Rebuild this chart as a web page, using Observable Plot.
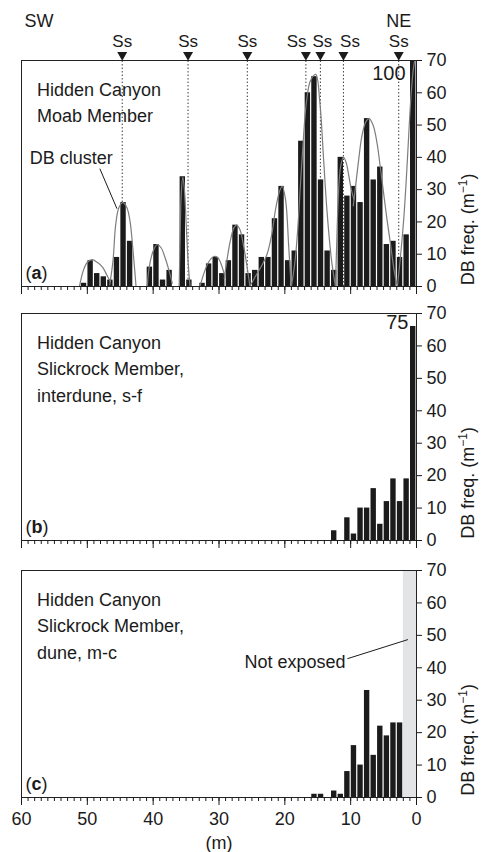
<!DOCTYPE html>
<html>
<head>
<meta charset="utf-8">
<script src="https://cdn.jsdelivr.net/npm/d3@7"></script>
<script src="https://cdn.jsdelivr.net/npm/@observablehq/plot@0.6"></script>
<style>
html, body { margin: 0; padding: 0; background: #fff; }
#chart svg { display: block; }
</style>
</head>
<body>
<div id="chart"></div>
<script>
// ---- Data (bin start in metres, value = deformation-band frequency per metre) ----
const meters = [0,1,2,3,4,5,6,7,8,9,10,11,12,13,14,15,16,17,18,19,20,21,22,23,24,25,26,27,28,29,
                30,31,32,33,34,35,36,37,38,39,40,41,42,43,44,45,46,47,48,49,50,51,52,53,54,55,56,57,58,59];
const moabValues = [100,16,9,14,13,37,33,52,26,31, 28,40,5,11,33,65,60,45,11,8,
                    31,21,9,9,5,4,16,19,8,4, 9,7,1,0,2,34,0,5,2,13,
                    6,0,0,14,26,9,2,3,4,8, 1,0,0,0,0,0,0,0,0,0];
const interduneValues = [75,19,12,19,12,5,16,10,10,2, 7,0,3,0,0,0,0,0,0,0,
                         0,0,0,0,0,0,0,0,0,0, 0,0,0,0,0,0,0,0,0,0,
                         0,0,0,0,0,0,0,0,0,0, 0,0,0,0,0,0,0,0,0,0];
const duneValues = [null,null,23,23,19,22,13,33,10,16, 8,1,2,0,1,1,0,0,0,0,
                    0,0,0,0,0,0,0,0,0,0, 0,0,0,0,0,0,0,0,0,0,
                    0,0,0,0,0,0,0,0,0,0, 0,0,0,0,0,0,0,0,0,0];
const ssPositions = [44.7, 34.7, 25.7, 16.8, 14.6, 11.1, 2.7];
const ssLabelPositions = [44.7, 34.7, 25.7, 18.2, 14.3, 10.1, 2.7];
const notExposed = [0, 2];
const yTicks = [0, 10, 20, 30, 40, 50, 60, 70];
const xMajorTicks = [60, 50, 40, 30, 20, 10, 0];
const xMinorTicks = [0,1,2,3,4,5,6,7,8,9,10,11,12,13,14,15,16,17,18,19,20,21,22,23,24,25,26,27,28,29,30,
                     31,32,33,34,35,36,37,38,39,40,41,42,43,44,45,46,47,48,49,50,51,52,53,54,55,56,57,58,59,60];
// DB cluster envelopes (points read along each grey arc: [m, DB freq])
const clusterArcs = [
  [[51.2,0],[50.6,5],[50.0,7.5],[49.3,8.3],[48.5,7.5],[47.7,6],[46.9,3],[46.5,1.5]],
  [[46.6,0.5],[46.1,8],[45.7,19],[45.2,24.5],[44.6,26],[44.0,24.5],[43.5,20],[43.1,12],[42.8,5],[42.6,0]],
  [[40.9,0],[40.6,6],[40.0,11],[39.4,13],[38.8,12],[38.2,9],[37.6,5],[37.1,1]],
  [[36.05,0],[35.9,15],[35.75,28],[35.5,34],[35.25,30],[35.0,20],[34.7,8],[34.4,0]],
  [[32.9,0],[32.3,4],[31.6,7.5],[30.8,9.3],[30.2,9],[29.6,6.5],[29.1,3]],
  [[29.2,2.5],[28.8,8],[28.3,14],[27.7,18.3],[27.3,19],[26.8,17.5],[26.3,13],[25.8,7],[25.3,0]],
  [[25.3,0],[24.5,3],[23.5,6.5],[22.7,10],[22.0,16],[21.4,24],[20.8,29.5],[20.4,31],[19.9,27],[19.4,12],[19.05,0]],
  [[19.0,0],[18.5,7],[18.1,16],[17.4,39],[16.7,57.5],[16.1,63.8],[15.3,65.7],[14.7,57.5],[14.1,39],[13.6,23.5],[12.9,8],[12.3,0]],
  [[12.3,0],[12.05,18],[11.8,31],[11.5,37.5],[11.1,40],[10.7,38.5],[10.3,34.5],[9.9,30],[9.5,27]],
  [[9.6,25],[9.2,32],[8.8,39],[8.3,46.5],[7.7,51],[7.2,52],[6.6,50],[6.0,44.5],[5.5,37],[5.0,29],[4.5,21],[3.9,12.5],[3.4,5],[2.9,0]],
  [[2.9,0],[2.4,10],[1.9,22],[1.5,35],[1.1,50],[0.8,60],[0.5,67],[0.2,71]]
];

const FONT = "'Liberation Sans', Arial, Helvetica, sans-serif";
const INK = "#1b1b1b";

function panel({values, height, marginTop, marginBottom, cap, before = [], after = [], xLabels = false, tag, texts}) {
  const bars = meters.map((m, i) => ({m, v: values[i]})).filter(d => d.v != null && d.v > 0);
  const marks = [
    ...before,
    Plot.rect(bars, {x1: "m", x2: d => d.m + 1, y1: 0, y2: d => Math.min(d.v, cap), fill: INK, insetLeft: 0.6, insetRight: 0.6}),
    ...after,
    Plot.frame({stroke: "#222", strokeWidth: 1}),
    Plot.axisY({anchor: "right", ticks: yTicks, tickSize: 5, tickPadding: 5, label: null, fontSize: 18}),
    Plot.text(["DB freq. (m-1)"], {frameAnchor: "right", dx: 52, rotate: -90, fontSize: 18}),
    Plot.axisX({ticks: xMinorTicks, tickSize: 4, tickFormat: () => "", label: null}),
    Plot.axisX({ticks: xMajorTicks, tickSize: 8, tickPadding: 7, tickFormat: xLabels ? (d => String(d)) : (() => ""), label: null, fontSize: 18}),
    Plot.text([texts], {frameAnchor: "top-left", textAnchor: "start", lineAnchor: "top", dx: 15.5, dy: 17, lineHeight: 1.46, fontSize: 18}),
    Plot.text([tag], {frameAnchor: "bottom-left", textAnchor: "start", lineAnchor: "bottom", dx: 4, dy: -8, fontSize: 18})
  ];
  return Plot.plot({
    width: 481, height, marginLeft: 21, marginRight: 65, marginTop, marginBottom,
    x: {domain: [60, 0]},
    y: {domain: [0, 70]},
    style: {fontFamily: FONT, fontSize: "18px", color: INK, background: "#fff", overflow: "visible"},
    marks
  });
}

const arcTable = clusterArcs.flatMap((pts, i) => pts.map(([m, v]) => ({m, v, arc: i})));

const panelA = panel({
  values: moabValues, height: 300, marginTop: 60, marginBottom: 14, cap: 70,
  tag: "(a)", texts: "Hidden Canyon\nMoab Member",
  before: [
    Plot.ruleX(ssPositions, {x: d => d, y1: 0, y2: 70, stroke: "#333", strokeWidth: 1, strokeDasharray: "1.4,2.1"})
  ],
  after: [
    Plot.line(arcTable, {x: "m", y: "v", z: "arc", curve: "catmull-rom", stroke: "#7d7d7d", strokeWidth: 1.2, clip: true}),
    Plot.dot(ssPositions, {x: d => d, y: 70, symbol: "triangle", r: 3.7, rotate: 180, fill: INK, stroke: null, dy: -5.5}),
    Plot.text(ssLabelPositions, {x: d => d, y: 70, text: () => "Ss", dy: -19, fontSize: 17}),
    Plot.text(["SW"], {frameAnchor: "top-left", textAnchor: "start", lineAnchor: "middle", dx: 3, dy: -39, fontSize: 18}),
    Plot.text(["NE"], {x: 2.7, y: 70, lineAnchor: "middle", dy: -39, fontSize: 18}),
    Plot.text(["100"], {x: 1, y: 70, textAnchor: "end", lineAnchor: "top", dx: -4.4, dy: 5, fontSize: 20}),
    Plot.text(["DB cluster"], {x: 58.74, y: 39.6, textAnchor: "start", lineAnchor: "middle", fontSize: 18}),
    Plot.link([0], {x1: 48.1, y1: 36.5, x2: 45.5, y2: 24.1, stroke: INK, strokeWidth: 1})
  ]
});

const panelB = panel({
  values: interduneValues, height: 254, marginTop: 13, marginBottom: 14, cap: 66,
  tag: "(b)", texts: "Hidden Canyon\nSlickrock Member,\ninterdune, s-f",
  after: [
    Plot.text(["75"], {x: 1, y: 70, textAnchor: "end", lineAnchor: "top", dx: -1.5, dy: 1.7, fontSize: 20})
  ]
});

const panelC = panel({
  values: duneValues, height: 298, marginTop: 16, marginBottom: 55, cap: 70, xLabels: true,
  tag: "(c)", texts: "Hidden Canyon\nSlickrock Member,\ndune, m-c",
  before: [
    Plot.rect([notExposed], {x1: d => d[0], x2: d => d[1], y1: 0, y2: 70, fill: "#e3e4e6"})
  ],
  after: [
    Plot.text(["Not exposed"], {x: 10.79, y: 41.8, textAnchor: "end", lineAnchor: "middle", fontSize: 18}),
    Plot.link([0], {x1: 10.5, y1: 42.8, x2: 1.3, y2: 48.7, stroke: INK, strokeWidth: 1}),
    Plot.text(["(m)"], {frameAnchor: "bottom", lineAnchor: "middle", dy: 46, fontSize: 18})
  ]
});

const root = document.getElementById("chart");
for (const p of [panelA, panelB, panelC]) root.appendChild(p);

// Rich text: bold panel letters and superscript unit
root.querySelectorAll("text").forEach(el => {
  const t = el.textContent;
  const m = /^\(([abc])\)$/.exec(t);
  if (m && el.children.length === 0) {
    el.innerHTML = `(<tspan font-weight="bold">${m[1]}</tspan>)`;
  } else if (t === "DB freq. (m-1)" && el.children.length === 0) {
    el.innerHTML = `DB freq. (m<tspan dy="-7" font-size="12">\u22121</tspan><tspan dy="7">)</tspan>`;
  }
});
</script>
</body>
</html>
